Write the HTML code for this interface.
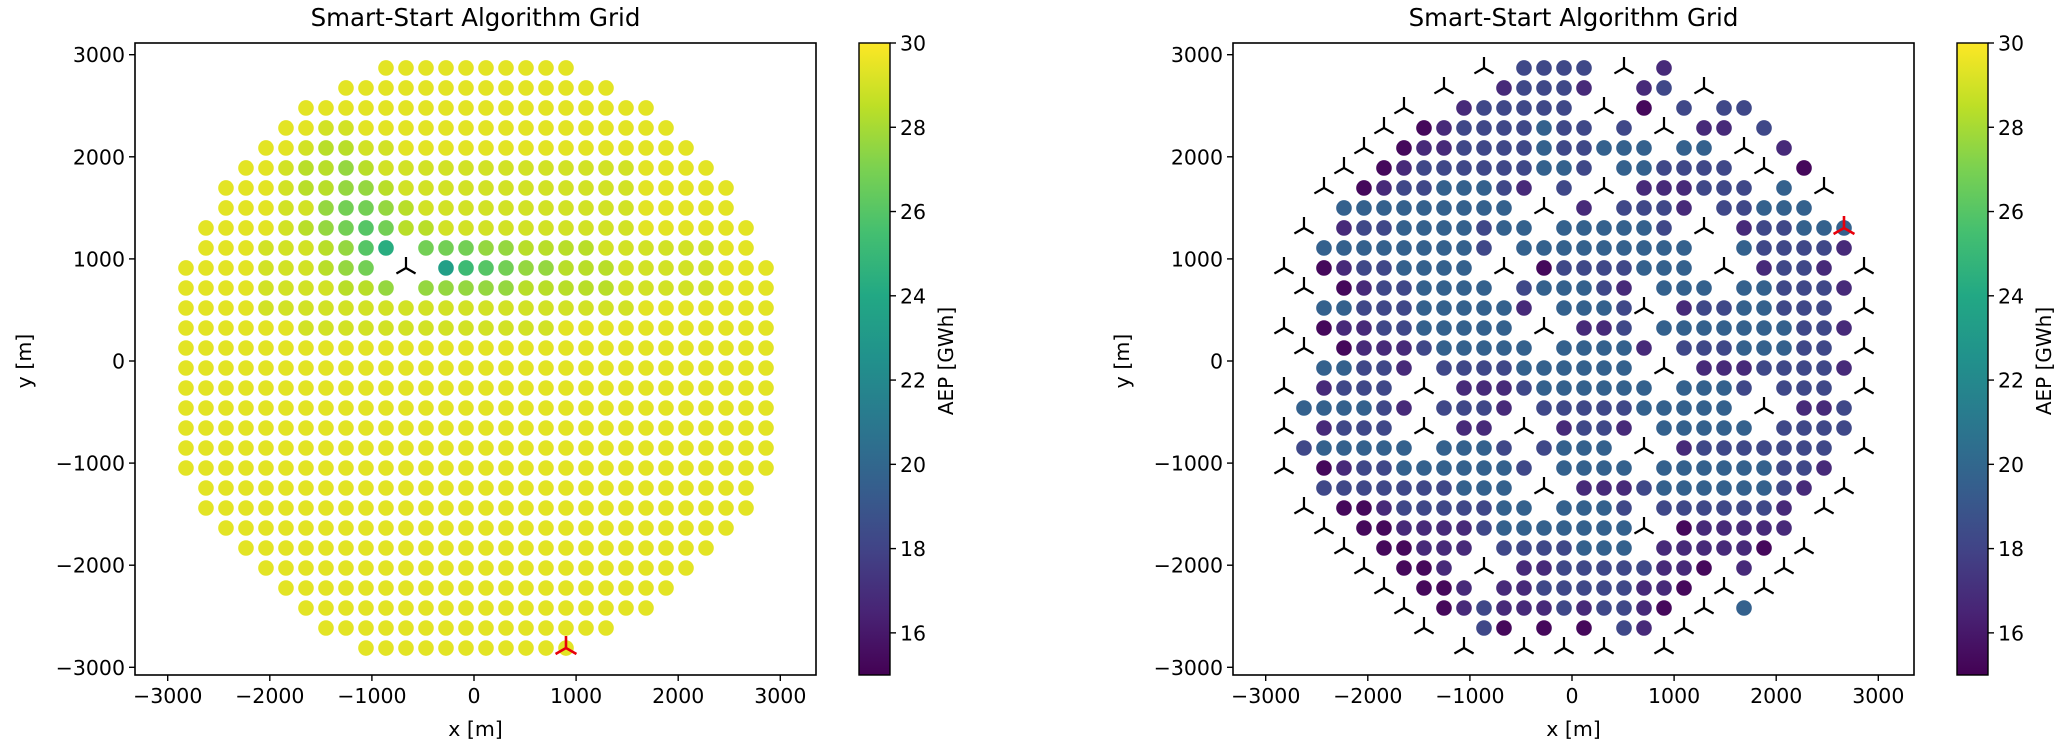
<!DOCTYPE html>
<html><head><meta charset="utf-8"><style>
html,body{margin:0;padding:0;background:#fff;}
svg{display:block;font-family:"DejaVu Sans","Liberation Sans",sans-serif;}
</style></head><body>
<svg id="chart" width="2067" height="751" viewBox="0 0 2067 751" xmlns="http://www.w3.org/2000/svg">
<defs>
<linearGradient id="viridis" x1="0" y1="1" x2="0" y2="0">
<stop offset="0" stop-color="#440154"/><stop offset="0.1" stop-color="#482475"/><stop offset="0.2" stop-color="#414487"/><stop offset="0.3" stop-color="#355f8d"/><stop offset="0.4" stop-color="#2a788e"/><stop offset="0.5" stop-color="#21918c"/><stop offset="0.6" stop-color="#22a884"/><stop offset="0.7" stop-color="#44bf70"/><stop offset="0.8" stop-color="#7ad151"/><stop offset="0.9" stop-color="#bddf26"/><stop offset="1" stop-color="#fde725"/>
</linearGradient>
</defs>
</svg>
<script>
const xTicks = [-3000, -2000, -1000, 0, 1000, 2000, 3000];
const yTicks = [-3000, -2000, -1000, 0, 1000, 2000, 3000];
const cbTicks = [16, 18, 20, 22, 24, 26, 28, 30];
const cbMin = 15, cbMax = 30;
const gridX0 = -2821, gridYTop = 2870, gridStep = 195.9;
const leftLevels = {'1':23.4,'2':24.3,'3':25.2,'4':26.0,'5':26.8,'6':27.6,'7':28.4,'8':29.0,'9':29.4};
const rightLevels = {'p':15.3,'q':16.8,'r':18.2,'s':19.6};
const leftRows = [
"..........9999999999..........",
"........99999999999999........",
"......999999999999999999......",
".....99889999999999999999.....",
"...."+"9987788"+"999999999999999"+"....",
"..."+"9987767"+"8888888888888"+"9999"+"...",
".."+"999877667"+"888888888888"+"99999"+"..",
".."+"9998865567"+"88888888888"+"99999"+"..",
"."+"999987654577"+"8888888888"+"999999"+".",
"."+"9998887642"+"."+"55566"+"7777"+"888888"+"99"+".",
"9999888765.T.13456677788888999",
"99998888776.666667777788888999",
"9999"+"8888888888888888888"+"9999999",
"999999"+"8888888888888"+"99999999999",
"999999999999999999999999999999",
"999999999999999999999999999999",
"999999999999999999999999999999",
"999999999999999999999999999999",
"999999999999999999999999999999",
"999999999999999999999999999999",
"999999999999999999999999999999",
".9999999999999999999999999999.",
".9999999999999999999999999999.",
"..99999999999999999999999999..",
"...999999999999999999999999...",
"....9999999999999999999999....",
".....99999999999999999999.....",
"......999999999999999999......",
".......999999999999999........",
".........99999999999.........."
];
const rightRows = [
".........."+"T.rrrr.T.q"+"..........",
"........"+"T..qrrrq..qr.T"+"........",
"......"+"T..qrrrrr.T.p.r.rr"+"......",
"....."+"T.pqrrrrsrr.r.T.qq.r"+".....",
"...."+"T.pqqrrrrsrrsss.ss.T.q"+"....",
"..."+"T.pqrrrrrrssr.ssrrrr.T.p"+"...",
".."+"T.pqrrsssrq.r.T.qqqrrr.s.T"+"..",
"..."+"sssssssss.T.q.rrrq.rrsss"+"...",
"."+"T.qrrssssrss.sssssr.T.qrrsss"+".",
".."+"ssssssssr.sssssssss..srrrrq"+".",
"T.pqrrssss.T.prrrrsss.T.qrrq.T",
"."+"T.pqrrssss"+"."+"rsssrq"+"."+"sss"+"."+"ssrrrq"+".",
".."+"ssrrrsssss"+"q"+"."+"sssr"+"T."+"qrrss"+"rrr"+".T",
"T.pqqrrsssss"+".T."+"qqr"+"."+"sssssss"+"rrq"+".",
".T.pqqqrsssss"+"."+"ssssq"+"."+"rrrsssrr"+".T",
".."+"ssrrq"+"."+"rrrrssssss"+"."+"T"+"."+"qqqrrrrq"+".",
"T.qrrr.T.qqqrssssss.sssr.rrr.T",
".ssssrq.rrrq.rrrrrsssss.T.qqr.",
"T.qrrr.T.qq.T.qrrq.sssss.rrrr.",
".rsssss.sssr.rsss.T.qrrrrrrr.T",
"T.pqrrssssssr.ssss.ssssssrrq..",
".."+"rrrrrrr"+"sss"+".T."+"qqqr"+"ssssss"+"rq"+".T"+".",
".T.ppqrrrrrss.sssr.rrrrrrq.T..",
"..T.ppqqqqrsssssssT.pqqqqq....",
"...T.ppqqq.rrrrsss.qqqqqp.T...",
"....T.ppq.T.qqrrrrrqqp.q.T....",
".....T.ppq.qqrrrrrqqp.T.T.....",
"......T.pqrqqqrqrrqp.T.s......",
".......T..rp.p.p.rq.T.........",
".........T..T.T.T..T.........."
];
const redLeft = [901, -2811];
const redRight = [2664, 1303];

const NS = "http://www.w3.org/2000/svg";
const svg = document.getElementById('chart');
const SCALE = 0.1021;
const Y0 = 361, AX_TOP = 43, AX_BOT = 675;
const vir = ["#440154","#482475","#414487","#355f8d","#2a788e","#21918c","#22a884","#44bf70","#7ad151","#bddf26","#fde725"];
function hex(c){return [parseInt(c.substr(1,2),16),parseInt(c.substr(3,2),16),parseInt(c.substr(5,2),16)];}
function viridis(v){
  let t=(v-cbMin)/(cbMax-cbMin); t=Math.max(0,Math.min(1,t));
  const f=t*10, i=Math.min(9,Math.floor(f)), u=f-i;
  const a=hex(vir[i]), b=hex(vir[i+1]);
  return "rgb("+a.map((x,n)=>Math.round(x+(b[n]-x)*u)).join(",")+")";
}
function el(tag, attrs, parent){
  const e=document.createElementNS(NS,tag);
  for(const k in attrs) e.setAttribute(k,attrs[k]);
  (parent||svg).appendChild(e); return e;
}
function turbine(g, cx, cy, color, w, L){
  const p = "M"+cx+","+cy+" l0,"+(-L)+" M"+cx+","+cy+" l"+(-L*0.87)+","+(L*0.5)+" M"+cx+","+cy+" l"+(L*0.87)+","+(L*0.5);
  return el('path',{d:p,stroke:color,'stroke-width':w,fill:'none'},g);
}

function drawPanel(off, rows, levels, red, prefix){
  const cx = 474 + off;
  const sx = v => cx + v*SCALE;
  const sy = v => Y0 - v*SCALE;
  const L = 135+off, R = 816+off;
  const g = el('g',{});
  
  
  const title = el('text',{x:(L+R)/2,y:26,'text-anchor':'middle','font-size':'24.5'},g);
  title.textContent = "Smart-Start Algorithm Grid";
  
  
  const pts = el('g',{},g);
  
  
  const turbs = [];
  rows.forEach((row,i)=>{
    for(let k=0;k<row.length;k++){
      const ch=row[k];
      if(ch==='.') continue;
      const xv = gridX0 + gridStep*k, yv = gridYTop - gridStep*i;
      if(ch==='T'){ turbs.push([xv,yv]); continue; }
      const c = el('circle',{cx:sx(xv),cy:sy(yv),r:7.8,fill:viridis(levels[ch])},pts);
      
      
    }
  });
  turbs.forEach(t=>{
    const m = turbine(g, sx(t[0]), sy(t[1]), '#000', 2.2, 11);
    
    
  });
  const rm = turbine(g, sx(red[0]), sy(red[1]), '#e8000b', 2.6, 12);
  
  
  const frame = el('rect',{x:L,y:AX_TOP,width:R-L,height:AX_BOT-AX_TOP,fill:'none',stroke:'#000','stroke-width':1.6},g);
  
  
  xTicks.forEach(v=>{
    const x=sx(v);
    el('line',{x1:x,y1:AX_BOT,x2:x,y2:AX_BOT+6,stroke:'#000','stroke-width':1.4},g);
    const t=el('text',{x:x,y:AX_BOT+28,'text-anchor':'middle','font-size':'20.5'},g);
    t.textContent = v<0 ? "\u2212"+Math.abs(v) : String(v);
    
    
  });
  yTicks.forEach(v=>{
    const y=sy(v);
    el('line',{x1:L-6,y1:y,x2:L,y2:y,stroke:'#000','stroke-width':1.4},g);
    const t=el('text',{x:L-10,y:y+7.5,'text-anchor':'end','font-size':'20.5'},g);
    t.textContent = v<0 ? "\u2212"+Math.abs(v) : String(v);
    
    
  });
  const xl=el('text',{x:(L+R)/2,y:736,'text-anchor':'middle','font-size':'20.5'},g);
  xl.textContent="x [m]";
  
  
  const ylx = 31+off;
  const yl=el('text',{x:ylx,y:Y0,'text-anchor':'middle','font-size':'20.5',transform:'rotate(-90 '+ylx+' '+Y0+')'},g);
  yl.textContent="y [m]";
  
  
  const cbL = 859+off, cbW = 31;
  const cy = v => AX_BOT - (v-cbMin)/(cbMax-cbMin)*(AX_BOT-AX_TOP);
  const cb = el('rect',{x:cbL,y:AX_TOP,width:cbW,height:AX_BOT-AX_TOP,fill:'url(#viridis)',stroke:'#000','stroke-width':1.4},g);
  
  
  cbTicks.forEach(v=>{
    const y=cy(v);
    el('line',{x1:cbL+cbW,y1:y,x2:cbL+cbW+6,y2:y,stroke:'#000','stroke-width':1.4},g);
    const t=el('text',{x:cbL+cbW+10,y:y+7.5,'font-size':'20.5'},g);
    t.textContent=String(v);
    
    
  });
  const clx = 946+off;
  const cl=el('text',{x:clx,y:Y0,'text-anchor':'middle','font-size':'20','dominant-baseline':'central',transform:'rotate(-90 '+clx+' '+Y0+')'},g);
  cl.textContent="AEP [GWh]";
  
  
}
drawPanel(0, leftRows, leftLevels, redLeft, 'left');
drawPanel(1098, rightRows, rightLevels, redRight, 'right');
</script>
</body></html>
